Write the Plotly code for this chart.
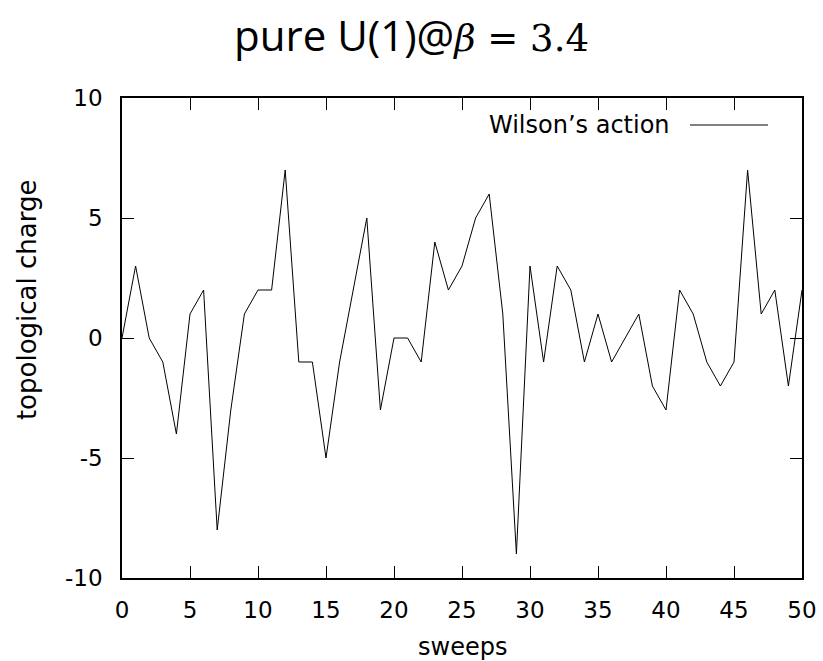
import plotly.graph_objects as go

sweeps = list(range(0, 51))
charge = [0, 3, 0, -1, -4, 1, 2, -8, -3, 1,
          2, 2, 7, -1, -1, -5, -1, 2, 5, -3,
          0, 0, -1, 4, 2, 3, 5, 6, 1, -9,
          3, -1, 3, 2, -1, 1, -1, 0, 1, -2,
          -3, 2, 1, -1, -2, -1, 7, 1, 2, -2,
          2]
x_ticks = list(range(0, 51, 5))
y_ticks = [-10, -5, 0, 5, 10]
y_ticktext = ["-10", "-5", "0", "5", "10"]
series_name = "Wilson\u2019s action"

fig = go.Figure()
fig.add_trace(go.Scatter(x=sweeps, y=charge, mode="lines", name=series_name,
                         line=dict(color="black", width=1), showlegend=False))

tickfont = dict(family="DejaVu Sans", size=23, color="black")
axis_common = dict(showgrid=False, zeroline=False, showline=True, linecolor="black",
                   linewidth=1.5, mirror="ticks", ticks="inside", ticklen=12,
                   tickwidth=1, tickcolor="black", tickfont=tickfont, automargin=False)

fig.update_xaxes(range=[0, 50], tickvals=x_ticks, ticklabelstandoff=11, **axis_common)
fig.update_yaxes(range=[-10, 10], tickvals=y_ticks, ticktext=y_ticktext,
                 ticklabelstandoff=13, **axis_common)

fig.update_layout(
    width=823, height=661, autosize=False,
    margin=dict(l=122, r=21, t=98, b=83),
    paper_bgcolor="white", plot_bgcolor="white",
    title=dict(
        text='pure U(1)@<span style="font-family:DejaVu Serif;font-size:37px"><i>\u03b2</i> = 3.4</span>',
        x=0.5, xref="container", xanchor="center",
        y=1 - 36 / 661, yref="container", yanchor="middle",
        font=dict(family="Open Sans", size=42, color="black"),
    ),
    annotations=[
        dict(text="sweeps", x=0.5, y=-0.144, xref="paper", yref="paper",
             xanchor="center", yanchor="middle", showarrow=False,
             font=dict(family="DejaVu Sans", size=24, color="black")),
        dict(text="topological charge", x=-0.1397, y=0.579, xref="paper", yref="paper",
             xanchor="center", yanchor="middle", textangle=-90, showarrow=False,
             font=dict(family="DejaVu Sans", size=26, color="black")),
        dict(text=series_name, x=0.8088, y=0.94375, xref="paper", yref="paper",
             xanchor="right", yanchor="middle", showarrow=False,
             font=dict(family="DejaVu Sans", size=24, color="black")),
    ],
    shapes=[
        dict(type="line", xref="paper", yref="paper", x0=0.8353, x1=0.95,
             y0=0.94375, y1=0.94375, line=dict(color="#808080", width=2)),
    ],
)

fig.write_html("out.html", config={"displayModeBar": False},
               post_script="document.body.style.margin='0px';document.body.style.overflow='hidden';")
